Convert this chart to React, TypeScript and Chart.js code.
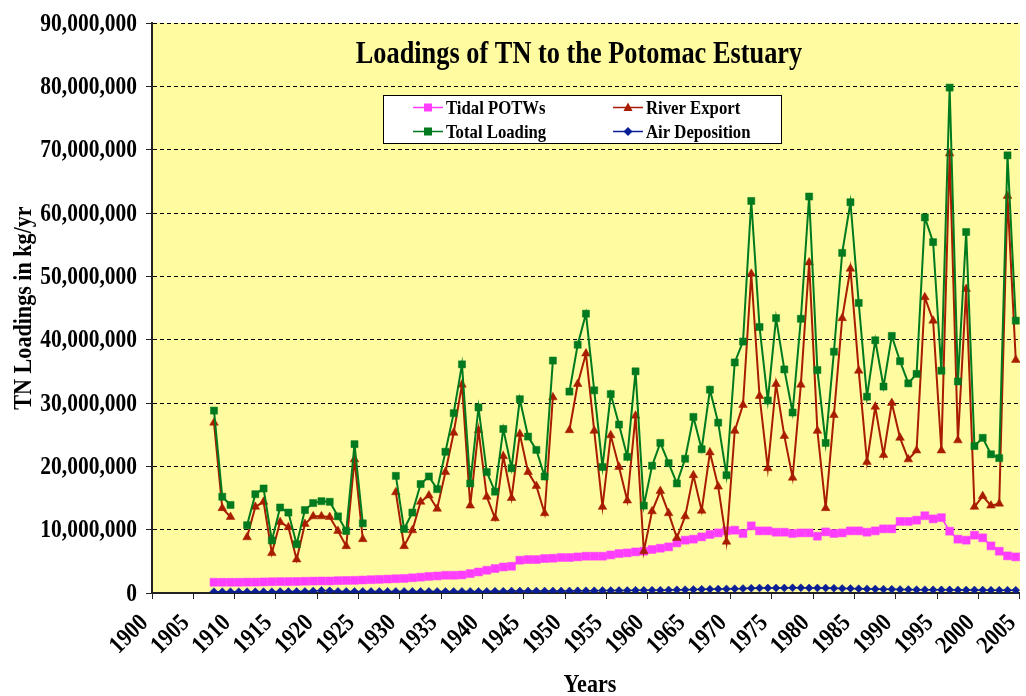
import React, { useEffect, useRef } from 'react';
import { Chart, registerables } from 'chart.js';

Chart.register(...registerables);

const TITLE = 'Loadings of TN to the Potomac Estuary';
const Y_TITLE = 'TN Loadings in kg/yr';
const X_TITLE = 'Years';
const UNIT = 1e6;

const YEARS = [
  1908, 1909, 1910, 1911, 1912, 1913, 1914, 1915, 1916, 1917,
  1918, 1919, 1920, 1921, 1922, 1923, 1924, 1925, 1926, 1927,
  1928, 1929, 1930, 1931, 1932, 1933, 1934, 1935, 1936, 1937,
  1938, 1939, 1940, 1941, 1942, 1943, 1944, 1945, 1946, 1947,
  1948, 1949, 1950, 1951, 1952, 1953, 1954, 1955, 1956, 1957,
  1958, 1959, 1960, 1961, 1962, 1963, 1964, 1965, 1966, 1967,
  1968, 1969, 1970, 1971, 1972, 1973, 1974, 1975, 1976, 1977,
  1978, 1979, 1980, 1981, 1982, 1983, 1984, 1985, 1986, 1987,
  1988, 1989, 1990, 1991, 1992, 1993, 1994, 1995, 1996, 1997,
  1998, 1999, 2000, 2001, 2002, 2003, 2004, 2005,
];

// values in millions of kg/yr
const TIDAL_POTWS = [
  1.70, 1.70, 1.70, 1.70, 1.72, 1.72, 1.75, 1.78, 1.80, 1.80,
  1.82, 1.85, 1.88, 1.90, 1.90, 1.95, 1.98, 2.00, 2.05, 2.10,
  2.15, 2.20, 2.25, 2.30, 2.40, 2.50, 2.62, 2.69, 2.80, 2.80,
  2.85, 3.07, 3.32, 3.59, 3.86, 4.11, 4.22, 5.17, 5.28, 5.28,
  5.44, 5.49, 5.60, 5.60, 5.70, 5.81, 5.81, 5.81, 6.01, 6.23,
  6.33, 6.49, 6.60, 6.87, 7.07, 7.28, 7.91, 8.34, 8.50, 8.86,
  9.24, 9.49, 9.81, 9.92, 9.40, 10.6, 9.81, 9.81, 9.60, 9.60,
  9.40, 9.49, 9.49, 8.97, 9.65, 9.40, 9.49, 9.81, 9.81, 9.60,
  9.81, 10.13, 10.13, 11.3, 11.3, 11.5, 12.2, 11.7, 11.9, 9.76,
  8.50, 8.34, 9.13, 8.71, 7.44, 6.60, 5.86, 5.70,
];

const RIVER_EXPORT = [
  26.9, 13.4, 12.0, null, 8.8, 13.6, 14.4, 6.3, 11.2, 10.4,
  5.3, 10.9, 12.1, 12.1, 12.0, 9.8, 7.4, 21.1, 8.5, null,
  null, null, 15.9, 7.4, 9.9, 14.4, 15.4, 13.3, 19.1, 25.3,
  32.9, 13.8, 25.7, 15.2, 11.8, 21.6, 15.0, 25.1, 19.1, 16.9,
  12.6, 30.9, null, 25.7, 33.0, 37.8, 25.6, 13.6, 24.9, 19.9,
  14.6, 28.0, 6.6, 12.9, 16.1, 12.6, 8.7, 12.1, 18.6, 13.0,
  22.2, 16.8, 8.1, 25.6, 29.7, 50.4, 31.1, 19.7, 33.0, 24.8,
  18.2, 32.9, 52.2, 25.6, 13.4, 28.1, 43.4, 51.2, 35.1, 20.7,
  29.4, 21.8, 30.0, 24.5, 21.1, 22.5, 46.7, 43.0, 22.5, 69.4,
  24.1, 48.0, 13.6, 15.3, 13.8, 14.1, 62.7, 36.8,
];

const TOTAL_LOADING = [
  28.8, 15.2, 13.9, null, 10.7, 15.6, 16.5, 8.3, 13.5, 12.7,
  7.7, 13.1, 14.2, 14.5, 14.4, 12.1, 9.8, 23.5, 11.0, null,
  null, null, 18.5, 10.1, 12.7, 17.2, 18.4, 16.4, 22.3, 28.4,
  36.1, 17.3, 29.3, 19.1, 16.0, 25.9, 19.7, 30.6, 24.7, 22.6,
  18.4, 36.7, null, 31.8, 39.2, 44.1, 32.0, 19.9, 31.4, 26.6,
  21.5, 35.0, 13.8, 20.1, 23.7, 20.5, 17.3, 21.2, 27.8, 22.7,
  32.1, 26.9, 18.6, 36.4, 39.7, 61.9, 42.0, 30.4, 43.4, 35.3,
  28.5, 43.3, 62.6, 35.2, 23.7, 38.1, 53.7, 61.7, 45.8, 31.0,
  39.9, 32.6, 40.6, 36.6, 33.1, 34.6, 59.3, 55.4, 35.1, 79.8,
  33.4, 57.0, 23.2, 24.5, 21.9, 21.3, 69.1, 43.0,
];

const AIR_DEPOSITION = [
  0.20, 0.20, 0.20, 0.20, 0.20, 0.20, 0.20, 0.20, 0.22, 0.22,
  0.22, 0.25, 0.30, 0.40, 0.35, 0.25, 0.25, 0.25, 0.25, 0.25,
  0.25, 0.25, 0.25, 0.25, 0.25, 0.25, 0.25, 0.25, 0.25, 0.25,
  0.25, 0.25, 0.25, 0.25, 0.28, 0.28, 0.30, 0.30, 0.30, 0.30,
  0.30, 0.32, 0.32, 0.32, 0.35, 0.35, 0.35, 0.38, 0.38, 0.40,
  0.40, 0.42, 0.42, 0.45, 0.45, 0.48, 0.50, 0.52, 0.55, 0.58,
  0.60, 0.62, 0.65, 0.68, 0.70, 0.75, 0.78, 0.80, 0.80, 0.80,
  0.82, 0.82, 0.80, 0.80, 0.78, 0.75, 0.72, 0.70, 0.68, 0.65,
  0.62, 0.60, 0.58, 0.55, 0.55, 0.52, 0.52, 0.50, 0.50, 0.50,
  0.48, 0.48, 0.47, 0.46, 0.45, 0.45, 0.44, 0.43,
];

const X_MIN = 1900;
const X_MAX = 2005;
const X_STEP = 5;
const Y_MAX = 90;
const Y_STEP = 10;
// each year's point sits in the middle of the interval ending at its tick
const YEAR_OFFSET = -0.5;

const FONT = '"Liberation Serif", "Times New Roman", serif';
const PLOT_BG = 'rgb(255,251,160)';

const C_POTW = '#FF3DFF';
const C_RIVER = '#A81C00';
const C_TOTAL = '#007A1E';
const C_AIR = '#0A1E96';

const toPoints = (vals: (number | null)[]) =>
  YEARS.map((y, i) => ({ x: y + YEAR_OFFSET, y: vals[i] == null ? null : (vals[i] as number) }));

const fmtY = (v: number) => (v * UNIT).toLocaleString('en-US');
const fmtX = (v: number) => String(v);

// narrow, tall bold serif text like the original
function tallText(
  ctx: CanvasRenderingContext2D, text: string, x: number, y: number,
  size: number, sx: number, align: CanvasTextAlign, rot = 0,
) {
  ctx.save();
  ctx.translate(x, y);
  if (rot) ctx.rotate(rot);
  ctx.scale(sx, 1);
  ctx.font = `bold ${size}px ${FONT}`;
  ctx.textAlign = align;
  ctx.textBaseline = 'alphabetic';
  ctx.fillStyle = '#000';
  ctx.fillText(text, 0, 0);
  ctx.restore();
}

function drawMarker(ctx: CanvasRenderingContext2D, kind: string, x: number, y: number, color: string) {
  ctx.fillStyle = color;
  ctx.beginPath();
  if (kind === 'rect') {
    ctx.rect(x - 4, y - 4, 8, 8);
  } else if (kind === 'triangle') {
    ctx.moveTo(x, y - 5);
    ctx.lineTo(x + 4.5, y + 3.5);
    ctx.lineTo(x - 4.5, y + 3.5);
    ctx.closePath();
  } else {
    ctx.moveTo(x, y - 4.5);
    ctx.lineTo(x + 4.5, y);
    ctx.lineTo(x, y + 4.5);
    ctx.lineTo(x - 4.5, y);
    ctx.closePath();
  }
  ctx.fill();
}

const LEGEND = [
  { label: 'Tidal POTWs', color: C_POTW, marker: 'rect', col: 0, row: 0 },
  { label: 'River Export', color: C_RIVER, marker: 'triangle', col: 1, row: 0 },
  { label: 'Total Loading', color: C_TOTAL, marker: 'rect', col: 0, row: 1 },
  { label: 'Air Deposition', color: C_AIR, marker: 'rectRot', col: 1, row: 1 },
];

const decorPlugin = {
  id: 'decor',
  beforeDraw(chart: any) {
    const { ctx, chartArea: a } = chart;
    ctx.save();
    ctx.fillStyle = PLOT_BG;
    ctx.fillRect(a.left, a.top, a.right - a.left, a.bottom - a.top);
    ctx.restore();
  },
  afterDraw(chart: any) {
    const { ctx, chartArea: a } = chart;
    const xs = chart.scales.x;
    const ys = chart.scales.y;

    // y tick labels
    for (const t of ys.ticks) {
      const py = ys.getPixelForValue(t.value);
      tallText(ctx, fmtY(t.value), a.left - 15, py + 7.5, 25, 0.86, 'right');
    }
    // x tick labels, rotated 45 degrees
    for (const t of xs.ticks) {
      const px = xs.getPixelForValue(t.value);
      tallText(ctx, fmtX(t.value), px - 3, a.bottom + 31, 25, 0.86, 'right', -Math.PI / 4);
    }
    // axis titles
    tallText(ctx, Y_TITLE, 31, (a.top + a.bottom) / 2, 26, 0.85, 'center', -Math.PI / 2);
    tallText(ctx, X_TITLE, (a.left + a.right) / 2 + 4, 692, 26, 0.85, 'center');

    // chart title
    tallText(ctx, TITLE, (a.left + a.right) / 2 - 7, a.top + 40, 31, 0.85, 'center');

    // legend box
    ctx.save();
    const bx = a.left + 231;
    const by = a.top + 72;
    const bw = 398;
    const bh = 48;
    ctx.fillStyle = '#fff';
    ctx.fillRect(bx, by, bw, bh);
    ctx.strokeStyle = '#000';
    ctx.lineWidth = 1;
    ctx.strokeRect(bx + 0.5, by + 0.5, bw, bh);
    for (const e of LEGEND) {
      const lx = bx + (e.col === 0 ? 30 : 230);
      const ly = by + (e.row === 0 ? 12.5 : 36.5);
      ctx.strokeStyle = e.color;
      ctx.lineWidth = 1.5;
      ctx.beginPath();
      ctx.moveTo(lx, ly);
      ctx.lineTo(lx + 30, ly);
      ctx.stroke();
      drawMarker(ctx, e.marker, lx + 15, ly, e.color);
      tallText(ctx, e.label, lx + 33, ly + 6, 19, 0.88, 'left');
    }
    ctx.restore();
  },
};

export default function App() {
  const canvasRef = useRef<HTMLCanvasElement | null>(null);

  useEffect(() => {
    document.body.style.margin = '0';
    const canvas = canvasRef.current;
    if (!canvas) return;

    const chart = new Chart(canvas, {
      type: 'line',
      data: {
        datasets: [
          {
            label: 'Air Deposition',
            data: toPoints(AIR_DEPOSITION),
            borderColor: C_AIR,
            backgroundColor: C_AIR,
            borderWidth: 1.5,
            pointStyle: 'rectRot',
            pointRadius: 4,
            pointBorderWidth: 0.5,
            pointBorderColor: C_AIR,
            pointBackgroundColor: C_AIR,
          },
          {
            label: 'Total Loading',
            data: toPoints(TOTAL_LOADING),
            borderColor: C_TOTAL,
            backgroundColor: C_TOTAL,
            borderWidth: 2,
            pointStyle: 'rect',
            pointRadius: 5,
            pointBorderWidth: 0.5,
            pointBorderColor: C_TOTAL,
            pointBackgroundColor: C_TOTAL,
          },
          {
            label: 'River Export',
            data: toPoints(RIVER_EXPORT),
            borderColor: C_RIVER,
            backgroundColor: C_RIVER,
            borderWidth: 2,
            pointStyle: 'triangle',
            pointRadius: 5,
            pointBorderWidth: 0.5,
            pointBorderColor: C_RIVER,
            pointBackgroundColor: C_RIVER,
          },
          {
            label: 'Tidal POTWs',
            data: toPoints(TIDAL_POTWS),
            borderColor: C_POTW,
            backgroundColor: C_POTW,
            borderWidth: 1.5,
            pointStyle: 'rect',
            pointRadius: 5.6,
            pointBorderWidth: 0.5,
            pointBorderColor: C_POTW,
            pointBackgroundColor: C_POTW,
          },
        ],
      },
      options: {
        animation: false,
        responsive: true,
        maintainAspectRatio: false,
        spanGaps: false,
        layout: { padding: { top: 23, right: 4, left: 0, bottom: 0 } },
        plugins: {
          legend: { display: false },
          tooltip: { enabled: false },
          title: { display: false },
        },
        scales: {
          x: {
            type: 'linear',
            min: X_MIN,
            max: X_MAX,
            ticks: {
              stepSize: X_STEP,
              autoSkip: false,
              display: false,
            },
            grid: {
              drawOnChartArea: false,
              drawTicks: true,
              tickLength: 6,
              tickColor: '#222',
              tickWidth: 1,
            },
            border: { display: true, color: '#222', width: 2 },
            title: { display: false },
            afterFit: (scale: any) => {
              scale.height = 103;
              scale.paddingLeft = 0;
              scale.paddingRight = 0;
            },
          },
          y: {
            type: 'linear',
            min: 0,
            max: Y_MAX,
            ticks: {
              stepSize: Y_STEP,
              display: false,
            },
            grid: {
              color: (ctx: any) => (ctx.tick && ctx.tick.value === 0 ? 'rgba(0,0,0,0)' : '#000'),
              lineWidth: 1,
              drawTicks: true,
              tickLength: 6,
              tickColor: '#222',
              tickWidth: 1,
              tickBorderDash: [],
            },
            border: { display: true, color: '#222', width: 2, dash: [4, 3] },
            title: { display: false },
            afterFit: (scale: any) => {
              scale.width = 152;
              scale.paddingTop = 0;
              scale.paddingBottom = 0;
            },
          },
        },
      } as any,
      plugins: [decorPlugin],
    });

    return () => {
      chart.destroy();
    };
  }, []);

  return (
    <div style={{ position: 'relative', width: '1026px', height: '696px' }}>
      <canvas ref={canvasRef} />
    </div>
  );
}
